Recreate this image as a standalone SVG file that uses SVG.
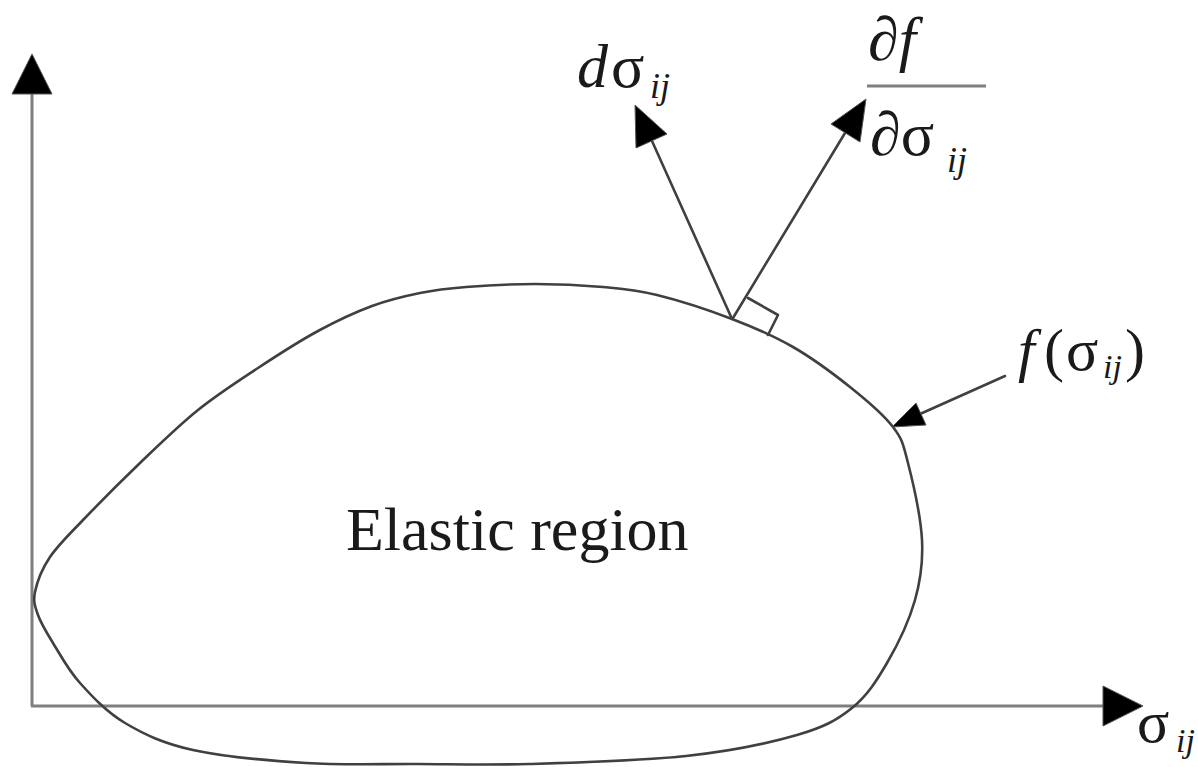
<svg xmlns="http://www.w3.org/2000/svg" width="1198" height="767" viewBox="0 0 1198 767">
<style>
.axis{stroke:#7f7f7f;stroke-width:3;fill:none}
.line{stroke:#404040;stroke-width:2.6;fill:none;stroke-linecap:round;stroke-linejoin:round}
.head{fill:#000;stroke:#555;stroke-width:1}
.t{font-family:"Liberation Serif","Times New Roman",serif;fill:#1a1a1a}
.i{font-style:italic}
</style>
<rect width="1198" height="767" fill="#fff"/>
<g id="axes">
<line class="axis" x1="32" y1="94" x2="32" y2="706"/>
<line class="axis" x1="31" y1="706" x2="1104" y2="706"/>
<polygon class="head" points="32,54 12,94 52,94"/>
<polygon class="head" points="1143,706 1103,686 1103,726"/>
</g>
<g id="yield-surface">
<path class="line" d="M35,592 C37,582.3 41.7,569.3 50,557 C58.3,544.7 70,533.7 85,518 C100,502.3 121.2,481 140,463 C158.8,445 178.3,425.8 198,410 C217.7,394.2 238,381.2 258,368 C278,354.8 299,341.3 318,331 C337,320.7 355,312.3 372,306 C389,299.7 404.3,296.2 420,293 C435.7,289.8 446.8,288.5 466,287 C485.2,285.5 512.2,284 535,284 C557.8,284 582.7,285.2 603,287 C623.3,288.8 635.5,289.7 657,295 C678.5,300.3 709.3,310.3 732,319 C754.7,327.7 773.3,335.7 793,347 C812.7,358.3 833.3,373.7 850,387 C866.7,400.3 883.3,414.3 893,427 C902.7,439.7 903.2,444.2 908,463 C912.8,481.8 920.8,517.2 922,540 C923.2,562.8 920.8,579.5 915,600 C909.2,620.5 897.5,645 887,663 C876.5,681 867,696 852,708 C837,720 824.7,727 797,735 C769.3,743 730.7,751.2 686,756 C641.3,760.8 573.7,762.7 529,764 C484.3,765.3 455.2,764.2 418,764 C380.8,763.8 343.5,765.3 306,763 C268.5,760.7 223.2,756.7 193,750 C162.8,743.3 143.8,734.2 125,723 C106.2,711.8 92,696.3 80,683 C68,669.7 60,654.3 53,643 C46,631.7 41,623.5 38,615 C35,606.5 33,601.7 35,592 Z"/>
</g>
<g id="connectors">
<line class="line" x1="732" y1="319" x2="652" y2="141"/>
<polygon class="head" points="635,105 667,134 636,148"/>
<line class="line" x1="733" y1="318" x2="845" y2="133"/>
<polygon class="head" points="866,99 860,142 831,124"/>
<line class="line" x1="1005" y1="376" x2="920" y2="414"/>
<polygon class="head" points="892,427 926,425 916,403"/>
<polyline class="line" points="748,298 778,315 768,335"/>
</g>
<g id="label-elastic">
<text class="t" x="346" y="550" font-size="62">Elastic region</text>
</g>
<g id="label-dsigma">
<text class="t i" x="577" y="87" font-size="62">d</text>
<text class="t" x="611" y="87" font-size="62">σ</text>
<text class="t i" x="650" y="98" font-size="36">ij</text>
</g>
<g id="label-gradient">
<text class="t" x="868" y="60" font-size="62">∂<tspan class="i">f</tspan></text>
<line x1="867" y1="86" x2="986" y2="86" stroke="#7f7f7f" stroke-width="3"/>
<text class="t" x="870" y="155" font-size="62">∂σ</text>
<text class="t i" x="947" y="172" font-size="36">ij</text>
</g>
<g id="label-f">
<text class="t i" x="1018" y="370" font-size="60">f</text>
<text class="t" x="1044" y="370" font-size="60">(</text>
<text class="t" x="1066" y="370" font-size="60">σ</text>
<text class="t i" x="1103" y="378" font-size="34">ij</text>
<text class="t" x="1125" y="370" font-size="60">)</text>
</g>
<g id="label-x">
<text class="t" x="1137" y="742" font-size="60">σ</text>
<text class="t i" x="1176" y="752" font-size="34">ij</text>
</g>
</svg>
